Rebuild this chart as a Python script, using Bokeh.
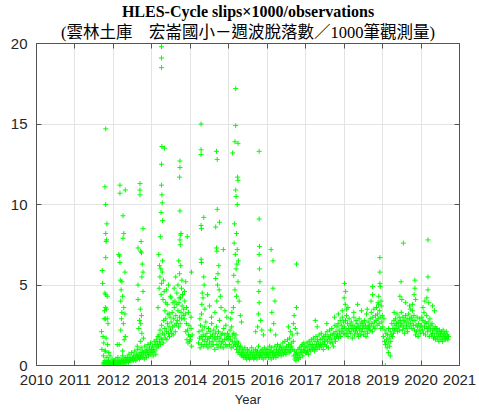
import numpy as np
from bokeh.plotting import figure
from bokeh.models import Range1d, FixedTicker, LinearAxis, Title
from bokeh.embed import file_html
from bokeh.resources import INLINE

nan = float("nan")

# ---- data ----
title1 = "HLES-Cycle slips\u00d71000/observations"
title2 = "(雲林土庫\u3000宏崙國小－週波脫落數／1000筆觀測量)"
x_ticks = [2010, 2011, 2012, 2013, 2014, 2015, 2016, 2017, 2018, 2019, 2020, 2021]
y_ticks = [0, 5, 10, 15, 20]

# baseline values, evenly spread over each period (start, end in decimal years)
base_2011 = (2011.73, 2012.0, [0.1, 0.2, 0.1, 0.3, 0.9, 0.2, 0.1, 0.5, 0.2, 0.1, 0.3, 0.1, 0.2, 0.6, 0.1, 0.2,
                               0.1, 0.4, 0.2, 0.1])
base_2012 = (2012.0, 2013.0, [0.1, 0.3, 0.2, 0.1, 0.4, 0.2, 0.1, 0.2, 0.5, 0.1, 0.3, 0.2,
                              0.2, 0.1, 0.4, 0.3, 0.2, 0.6, 0.1, 0.3, 0.2, 0.4, 0.2, 0.5,
                              0.3, 0.2, 0.5, 0.4, 0.2, 0.7, 0.3, 0.5, 0.4, 0.3, 0.8, 0.4,
                              0.5, 0.3, 0.6, 0.4, 0.9, 0.5, 0.3, 0.7, 0.4, 0.6, 1.0, 0.5,
                              0.6, 0.4, 0.8, 0.5, 1.1, 0.7, 0.5, 0.9, 0.6, 0.8, 0.4, 1.2,
                              0.7, 0.9, 0.5, 1.0, 0.8, 1.3, 0.6, 0.9, 1.1, 0.7, 1.4, 0.9, 1.0])
base_2013 = (2013.0, 2014.0, [0.8, 1.2, 0.6, 1.0, 1.5, 0.9, 1.3, 0.7, 1.6, 1.1, 1.4, 1.8,
                              1.2, 1.9, 1.5, 2.2, 1.3, 1.7, 2.5, 1.6, 2.0, 1.4, 2.8, 1.9,
                              2.3, 1.7, 2.9, 2.1, 1.6, 2.6, 3.2, 2.0, 2.4, 1.8, 3.0, 2.2,
                              2.7, 2.0, 3.3, 2.4, 1.9, 2.9, 3.6, 2.5, 2.1, 3.1, 2.6, 3.8,
                              2.8, 3.4, 2.4, 3.9, 3.0, 2.6, 4.2, 3.3, 2.9, 3.7, 4.4, 3.1,
                              3.5, 2.9, 4.0, 3.2, 2.1, 2.6, 1.6, 2.2, 1.4, 1.9, 2.5, 1.5, 1.8])
base_2014 = (2014.0, 2015.0, [1.6, 2.3, 1.2, 1.9, nan, nan, nan, nan, nan, nan, nan, nan, nan, nan, nan,
                              1.4, 2.1, 1.7, 1.1, 2.5, 1.8, 1.3, 2.2, 1.6,
                              1.9, 1.2, 2.4, 1.5, 1.8, 2.7, 1.3, 2.0, 1.6, 1.1, 2.3, 1.7,
                              1.4, 2.1, 1.8, 1.2, 2.6, 1.5, 1.9, 1.3, 2.2, 1.7, 1.0, 2.0,
                              1.6, 2.4, 1.3, 1.8, 1.1, 2.1, 1.5, 2.8, 1.7, 1.2, 1.9, 1.4,
                              2.0, 1.5, 1.1, 2.3, 1.6, 1.9, 1.3, 2.5, 1.7, 1.2, 2.0, 1.6, 1.8])
base_2015 = (2015.0, 2016.0, [1.8, 1.3, 2.2, 1.6, 1.1, 2.4, 1.5, 1.9, 1.2, 2.0, 1.4, 1.7,
                              1.3, 1.9, 1.0, 1.5, 1.2, 0.8, 1.4, 0.9, 1.1, 0.7, 1.2, 0.8,
                              0.6, 1.0, 0.7, 0.5, 0.9, 0.6, 1.1, 0.5, 0.8, 0.4, 0.7, 1.0,
                              0.6, 0.5, 0.9, 0.4, 0.7, 0.5, 0.8, 1.1, 0.5, 0.6, 0.9, 0.4,
                              0.7, 0.5, 1.0, 0.6, 0.8, 0.4, 0.9, 0.6, 1.2, 0.7, 0.5, 0.8,
                              0.6, 0.9, 0.5, 1.0, 0.7, 0.4, 0.8, 1.1, 0.6, 0.9, 0.5, 0.7, 1.0])
base_2016 = (2016.0, 2017.0, [0.7, 1.0, 0.5, 0.8, 1.2, 0.6, 0.9, 0.4, 1.1, 0.7, 0.8, 0.5,
                              0.9, 0.6, 1.2, 0.7, 0.5, 1.0, 0.8, 1.3, 0.6, 0.9, 0.7, 1.1,
                              0.8, 1.2, 0.6, 1.0, 0.9, 1.4, 0.7, 1.1, 0.8, 1.5, 1.0, 0.7,
                              1.2, 0.9, 1.6, 1.0, 1.3, 0.8, 1.7, 1.1, 0.9, 1.4, 1.2, 1.9,
                              1.0, 1.5, 0.6, 0.9, 0.4, 0.7, 0.3, 0.8, 0.5, 0.6, 1.0, 0.4,
                              0.7, 1.1, 0.5, 0.9, 1.2, 0.8, 1.3, 0.6, 1.0, 1.4, 0.9, 1.2, 0.8])
base_2017 = (2017.0, 2018.0, [1.1, 0.8, 1.4, 0.9, 1.2, 0.7, 1.5, 1.0, 1.3, 0.9, 1.6, 1.1,
                              1.3, 1.0, 1.7, 1.2, 0.9, 1.5, 1.1, 1.8, 1.3, 1.0, 1.6, 1.2,
                              1.4, 1.9, 1.1, 1.6, 1.3, 2.0, 1.2, 1.7, 1.4, 1.0, 1.8, 1.5,
                              1.3, 1.9, 1.6, 1.2, 2.1, 1.5, 1.8, 1.1, 1.7, 2.2, 1.4, 1.9,
                              1.6, 2.3, 1.4, 1.9, 1.2, 2.0, 1.7, 2.5, 1.5, 2.1, 1.8, 2.4,
                              1.9, 2.6, 1.7, 2.2, 2.0, 2.8, 1.8, 2.5, 2.1, 3.0, 2.3, 2.7, 2.0])
base_2018 = (2018.0, 2019.0, [2.4, 1.9, 2.8, 2.2, 3.1, 2.0, 2.6, 1.8, 2.3, 2.9, 2.1, 2.5,
                              2.0, 2.7, 2.3, 1.7, 2.5, 2.2, 3.0, 1.9, 2.4, 2.1, 2.8, 2.3,
                              2.6, 2.0, 2.4, 1.8, 2.9, 2.2, 2.5, 1.9, 2.7, 2.1, 2.3, 2.6,
                              1.9, 2.4, 2.8, 2.1, 2.5, 1.8, 3.2, 2.3, 2.0, 2.7, 2.4, 2.2,
                              2.5, 2.9, 2.2, 3.3, 2.6, 2.1, 3.0, 2.4, 3.5, 2.7, 2.3, 3.1,
                              2.8, 3.6, 2.5, 3.2, 2.9, 3.8, 2.6, 3.4, 3.0, 2.3, 3.7, 2.7, 3.1])
base_2019 = (2019.0, 2020.0, [2.4, 1.8, 2.9, 1.5, 2.2, 1.3, 2.0, 1.6, 1.1, 1.9, 1.4, 2.3,
                              1.7, 1.2, 2.1, 1.5, 1.9, 2.6, 1.8, 2.3, 2.0, 2.8, 2.2, 2.5,
                              2.9, 2.3, 2.6, 3.2, 2.1, 2.7, 2.4, 3.0, 2.2, 2.8, 2.5, 3.3,
                              2.6, 2.2, 3.0, 2.4, 2.8, 2.0, 2.7, 3.1, 2.3, 2.5, 2.9, 2.1,
                              2.7, 3.2, 2.4, 2.9, 3.5, 2.6, 3.0, 2.3, 3.4, 2.8, 2.5, 3.1,
                              2.2, 2.8, 1.9, 2.5, 2.1, 3.0, 2.4, 1.8, 2.6, 2.2, 2.9, 2.0, 2.4])
base_2020 = (2020.0, 2020.72, [2.5, 3.0, 2.2, 2.8, 2.0, 3.3, 2.4, 2.7, 1.9, 2.6, 3.1, 2.3,
                               2.1, 2.7, 2.4, 1.8, 2.9, 2.2, 2.5, 1.9, 2.6, 2.0, 2.3, 1.7,
                               2.2, 1.8, 2.4, 1.6, 2.0, 2.3, 1.7, 2.1, 1.9, 1.5, 2.2, 1.8,
                               2.0, 1.6, 2.1, 1.8, 1.5, 2.2, 1.9, 1.7, 2.0, 1.6, 1.8, 2.1,
                               1.7, 1.9, 1.6, 1.8])

# isolated high values (decimal year, value)
spike_year = [2011.80, 2011.78, 2011.80, 2011.83, 2011.80, 2011.82, 2011.81, 2011.80, 2011.71, 2011.72,
              2011.78, 2011.80, 2011.84, 2011.79, 2011.82, 2011.77, 2011.76, 2011.79, 2011.84, 2011.86,
              2011.69, 2011.73, 2011.81, 2011.75, 2011.85, 2011.70, 2011.78, 2011.88, 2011.74,
              2012.17, 2012.17, 2012.31, 2012.25, 2012.27, 2012.25, 2012.14, 2012.16, 2012.17, 2012.30,
              2012.18, 2012.22, 2012.20, 2012.24, 2012.19, 2012.27, 2012.22, 2012.30, 2012.21, 2012.26,
              2012.19, 2012.31, 2012.10, 2012.15, 2012.28, 2012.24,
              2012.69, 2012.69, 2012.69, 2012.77, 2012.72, 2012.71, 2012.73, 2012.64, 2012.75, 2012.77,
              2012.74, 2012.64, 2012.77, 2012.64, 2012.70, 2012.73, 2012.68, 2012.71, 2012.66, 2012.74,
              2012.78, 2012.70, 2012.62,
              2013.25, 2013.25, 2013.25, 2013.26, 2013.33, 2013.25, 2013.25, 2013.26, 2013.27, 2013.24,
              2013.28, 2013.22, 2013.18, 2013.28, 2013.20, 2013.23, 2013.27, 2013.21, 2013.30, 2013.25,
              2013.19, 2013.32, 2013.24, 2013.29, 2013.36, 2013.16, 2013.34, 2013.40, 2013.45, 2013.50,
              2013.73, 2013.73, 2013.72, 2013.73, 2013.76, 2013.74, 2013.73, 2013.74, 2013.92, 2014.03,
              2013.70, 2013.75, 2013.72, 2013.78, 2013.68, 2013.77, 2013.65, 2013.80, 2013.71, 2013.60,
              2013.85, 2013.88, 2013.58, 2013.55, 2013.62, 2013.48, 2013.43, 2013.38, 2013.90, 2013.95,
              2014.02,
              2014.28, 2014.28, 2014.28, 2014.35, 2014.28, 2014.29, 2014.28, 2014.29, 2014.35, 2014.36,
              2014.31, 2014.33, 2014.30, 2014.29, 2014.38, 2014.25,
              2014.68, 2014.70, 2014.70, 2014.76, 2014.66, 2014.68, 2014.69, 2014.86, 2014.74, 2014.72,
              2014.66, 2014.71, 2014.75, 2014.78, 2014.69, 2014.80, 2014.64, 2014.55, 2014.90, 2014.95,
              2014.50, 2014.45,
              2015.18, 2015.18, 2015.16, 2015.24, 2015.10, 2015.24, 2015.23, 2015.18, 2015.19, 2015.22,
              2015.15, 2015.20, 2015.14, 2015.22, 2015.17, 2015.25, 2015.21, 2015.19, 2015.13, 2015.24,
              2015.16, 2015.20, 2015.27, 2015.12, 2015.08, 2015.30, 2015.05, 2015.33,
              2015.79, 2015.79, 2015.80, 2015.79, 2015.80, 2015.81, 2015.78, 2015.79, 2015.77, 2015.83,
              2015.75, 2015.70, 2015.86, 2015.90,
              2016.10, 2016.15, 2016.15, 2016.20, 2016.12, 2016.17, 2016.08, 2016.22,
              2016.76, 2016.76, 2016.70, 2016.68, 2016.73, 2016.60, 2016.78, 2016.55,
              2017.25, 2017.30, 2017.55, 2017.75, 2017.85, 2018.01, 2018.04, 2018.00, 2018.03, 2018.06,
              2017.95, 2018.10, 2018.25, 2018.45, 2018.60, 2018.74, 2018.74, 2018.70, 2018.93, 2018.93,
              2018.93, 2018.94, 2018.90, 2018.96, 2018.88, 2019.07, 2019.15, 2019.20, 2019.48, 2019.54,
              2019.45, 2019.50, 2019.60, 2019.84, 2019.84, 2019.82, 2019.86, 2019.78, 2020.18, 2020.18,
              2020.18, 2020.15, 2020.20, 2020.10, 2020.05, 2020.30, 2020.35, 2019.70, 2019.30, 2018.35]
spike_val = [14.7, 11.1, 10.0, 8.8, 8.2, 7.8, 7.7, 6.7, 5.9, 5.1,
             4.5, 4.4, 4.3, 3.6, 3.5, 3.4, 2.9, 2.9, 2.9, 2.6,
             2.1, 1.8, 1.7, 1.4, 1.3, 1.0, 0.9, 0.8, 0.6,
             11.2, 10.7, 10.9, 9.3, 8.2, 7.9, 6.9, 6.8, 6.4, 5.8,
             5.3, 5.2, 4.7, 4.3, 4.0, 3.6, 3.3, 3.2, 2.9, 2.6,
             2.2, 1.8, 1.3, 1.3, 1.6, 0.9,
             11.3, 10.9, 10.6, 8.5, 7.7, 7.1, 7.0, 7.3, 6.3, 5.8,
             5.5, 5.0, 4.6, 4.1, 3.5, 3.1, 2.8, 2.6, 2.3, 2.0,
             1.7, 1.5, 1.2,
             19.8, 19.1, 18.5, 13.6, 13.5, 12.5, 11.2, 10.6, 10.1, 9.5,
             9.0, 8.0, 6.9, 6.5, 6.2, 6.0, 5.8, 5.5, 5.3, 5.1,
             4.8, 4.6, 4.4, 4.1, 3.9, 3.6, 3.4, 3.8, 3.2, 4.2,
             12.7, 12.3, 11.7, 9.6, 8.2, 8.1, 7.8, 7.5, 8.0, 5.8,
             6.5, 6.2, 5.7, 5.3, 5.0, 4.8, 4.5, 4.4, 4.2, 4.0,
             4.6, 5.2, 4.8, 3.9, 5.5, 4.3, 5.0, 4.7, 3.6, 3.3,
             3.0,
             15.0, 13.4, 13.1, 9.2, 8.7, 8.5, 6.6, 6.4, 5.5, 5.0,
             4.5, 4.2, 3.8, 3.2, 3.5, 2.9,
             13.3, 12.8, 9.7, 8.9, 8.6, 7.3, 7.1, 7.2, 6.2, 5.7,
             5.4, 5.0, 4.7, 4.3, 4.0, 3.6, 3.3, 3.0, 3.4, 3.0,
             3.7, 4.4,
             17.2, 14.9, 13.9, 13.8, 13.2, 11.5, 11.7, 10.9, 10.5, 10.0,
             8.8, 8.2, 7.6, 7.2, 6.9, 6.5, 6.3, 6.0, 5.6, 5.2,
             4.7, 4.3, 4.0, 3.6, 3.3, 3.1, 2.9, 2.7,
             13.3, 9.1, 7.4, 6.9, 6.0, 5.2, 4.6, 3.9, 3.2, 2.8,
             2.4, 2.1, 2.2, 1.9,
             7.2, 6.5, 4.8, 4.0, 3.3, 2.6, 2.2, 1.9,
             6.3, 3.6, 3.1, 2.6, 2.3, 2.1, 2.0, 2.4,
             2.8, 2.4, 2.6, 3.0, 3.2, 5.1, 4.6, 4.2, 3.8, 3.5,
             3.4, 3.6, 3.3, 3.4, 3.5, 4.9, 4.4, 4.0, 6.7, 5.8,
             5.1, 4.9, 4.3, 4.0, 3.9, 0.0, 0.8, 0.6, 5.2, 7.6,
             4.3, 4.1, 3.9, 5.3, 4.8, 4.4, 4.1, 3.8, 7.8, 5.5,
             4.7, 4.2, 3.9, 4.0, 3.6, 3.7, 3.4, 3.7, 3.3, 3.8]

# ---- assemble ----
xs, ys = [], []
for start, end, vals in [base_2011, base_2012, base_2013, base_2014, base_2015, base_2016,
                         base_2017, base_2018, base_2019, base_2020]:
    n = len(vals)
    d = start + (np.arange(n) + 0.5) * (end - start) / n
    xs.extend(d.tolist())
    ys.extend(vals)
xs.extend(spike_year)
ys.extend(spike_val)

AX = "#555555"
TXT = "#262626"

p = figure(width=479, height=410, output_backend="svg", toolbar_location=None,
           x_range=Range1d(2010, 2021), y_range=Range1d(0, 20),
           min_border_left=36, min_border_right=20, min_border_top=43, min_border_bottom=45)
p.title.visible = False
p.background_fill_color = "white"
p.border_fill_color = "white"
p.outline_line_color = AX
p.outline_line_width = 1

p.scatter(xs, ys, marker="cross", size=5, line_color="#00ff00", line_width=1)

for ax in (p.xaxis[0], p.yaxis[0]):
    ax.major_tick_in = 5
    ax.major_tick_out = 0
    ax.minor_tick_in = 0
    ax.minor_tick_out = 0
    ax.axis_line_color = AX
    ax.major_tick_line_color = AX
    ax.major_label_text_font = "Liberation Sans"
    ax.major_label_text_font_size = "15px"
    ax.major_label_text_color = TXT

p.xaxis.ticker = FixedTicker(ticks=x_ticks)
p.yaxis.ticker = FixedTicker(ticks=y_ticks)
p.xaxis.major_label_standoff = 9
p.yaxis.major_label_standoff = 9
p.xaxis.axis_label = "Year"
p.xaxis.axis_label_text_font = "Liberation Sans"
p.xaxis.axis_label_text_font_size = "13px"
p.xaxis.axis_label_text_font_style = "normal"
p.xaxis.axis_label_text_color = TXT
p.xaxis.axis_label_standoff = 4

# inward ticks on the top and right edges (box style), no labels
for side, tk in (("above", x_ticks), ("right", y_ticks)):
    a = LinearAxis(ticker=FixedTicker(ticks=tk), major_tick_in=5, major_tick_out=0,
                   minor_tick_in=0, minor_tick_out=0, axis_line_color=AX,
                   major_tick_line_color=AX, major_label_text_color=None,
                   major_label_text_font_size="1px", major_label_standoff=0)
    p.add_layout(a, side)

p.xgrid.ticker = FixedTicker(ticks=x_ticks)
p.ygrid.ticker = FixedTicker(ticks=y_ticks)
p.grid.grid_line_color = "#e3e3e3"
p.grid.grid_line_width = 1

p.add_layout(Title(text=title2, align="center", text_font="Liberation Serif, Noto Sans CJK TC",
                   text_font_size="16.5px", text_font_style="normal", text_color="black",
                   standoff=3), "above")
p.add_layout(Title(text=title1, align="center", text_font="Liberation Serif",
                   text_font_size="16px", text_font_style="bold", text_color="black",
                   standoff=0), "above")

open("out.html", "w").write(file_html(p, INLINE))
